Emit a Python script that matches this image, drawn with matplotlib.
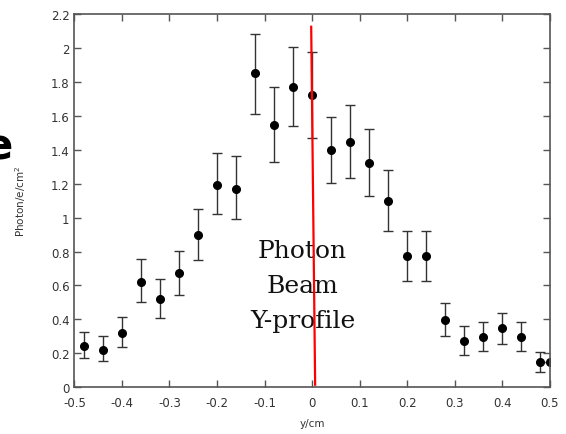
import numpy as np
import matplotlib.pyplot as plt

# Y-profile of the photon beam
y_pos = [-0.48, -0.44, -0.40, -0.36, -0.32, -0.28, -0.24, -0.20, -0.16, -0.12,
         -0.08, -0.04, 0.00, 0.04, 0.08, 0.12, 0.16, 0.20, 0.24, 0.28,
         0.32, 0.36, 0.40, 0.44, 0.48, 0.50]
photons = [0.245, 0.22, 0.32, 0.62, 0.52, 0.675, 0.90, 1.195, 1.17, 1.85,
           1.545, 1.77, 1.72, 1.40, 1.445, 1.32, 1.10, 0.773, 0.773, 0.399,
           0.271, 0.297, 0.348, 0.297, 0.149, 0.149]
err_low = [0.075, 0.065, 0.085, 0.12, 0.11, 0.13, 0.15, 0.175, 0.18, 0.24,
           0.215, 0.23, 0.25, 0.195, 0.21, 0.19, 0.176, 0.144, 0.144, 0.099,
           0.081, 0.083, 0.093, 0.083, 0.061, 0.0]
err_high = [0.08, 0.08, 0.095, 0.135, 0.12, 0.13, 0.15, 0.185, 0.195, 0.23,
            0.225, 0.235, 0.255, 0.195, 0.22, 0.205, 0.18, 0.151, 0.151, 0.10,
            0.089, 0.086, 0.092, 0.086, 0.059, 0.0]

# red marker line (beam centre)
line_x = [-0.002, 0.0063]
line_y = [2.125, 0.015]

x_ticks = [-0.5, -0.4, -0.3, -0.2, -0.1, 0, 0.1, 0.2, 0.3, 0.4, 0.5]
x_labels = ['-0.5', '-0.4', '-0.3', '-0.2', '-0.1', '0', '0.1', '0.2', '0.3', '0.4', '0.5']
y_ticks = [0, 0.2, 0.4, 0.6, 0.8, 1, 1.2, 1.4, 1.6, 1.8, 2, 2.2]
y_labels = ['0', '0.2', '0.4', '0.6', '0.8', '1', '1.2', '1.4', '1.6', '1.8', '2', '2.2']

fig = plt.figure(figsize=(5.66, 4.35), dpi=100)
ax = fig.add_axes([0.1313, 0.1074, 0.8404, 0.8581])

ax.errorbar(y_pos, photons, yerr=[err_low, err_high], fmt='o', color='black',
            ecolor='#333333', elinewidth=1.0, capsize=3.5, capthick=1.0,
            markersize=5.5)

ax.text(-0.02, 0.6, 'Photon\nBeam\nY-profile', family='DejaVu Serif',
        fontsize=18, ha='center', va='center', linespacing=1.65, color='#111111')

ax.plot(line_x, line_y, color='red', lw=1.6, zorder=5)

ax.set_xlim(-0.5, 0.5)
ax.set_ylim(0, 2.2)
ax.set_xticks(x_ticks)
ax.set_xticklabels(x_labels)
ax.set_yticks(y_ticks)
ax.set_yticklabels(y_labels)
ax.tick_params(direction='in', length=5, width=1, colors='#555555',
               labelcolor='#333333', labelsize=8.5, top=True, right=True)
ax.tick_params(axis='x', pad=6)
for s in ax.spines.values():
    s.set_color('#555555')
    s.set_linewidth(1.2)

ax.set_xlabel('y/cm', fontsize=7.5, color='#333333', labelpad=7)
ax.set_ylabel('Photon/e/cm$^2$', fontsize=7.5, color='#333333', labelpad=16)

# leftover glyph at the left edge of the slide
fig.text(13 / 566, 1 - 159 / 435, 'e', fontsize=30, fontweight='bold',
         ha='right', va='baseline', color='black')

fig.savefig('out.png', dpi=100)
